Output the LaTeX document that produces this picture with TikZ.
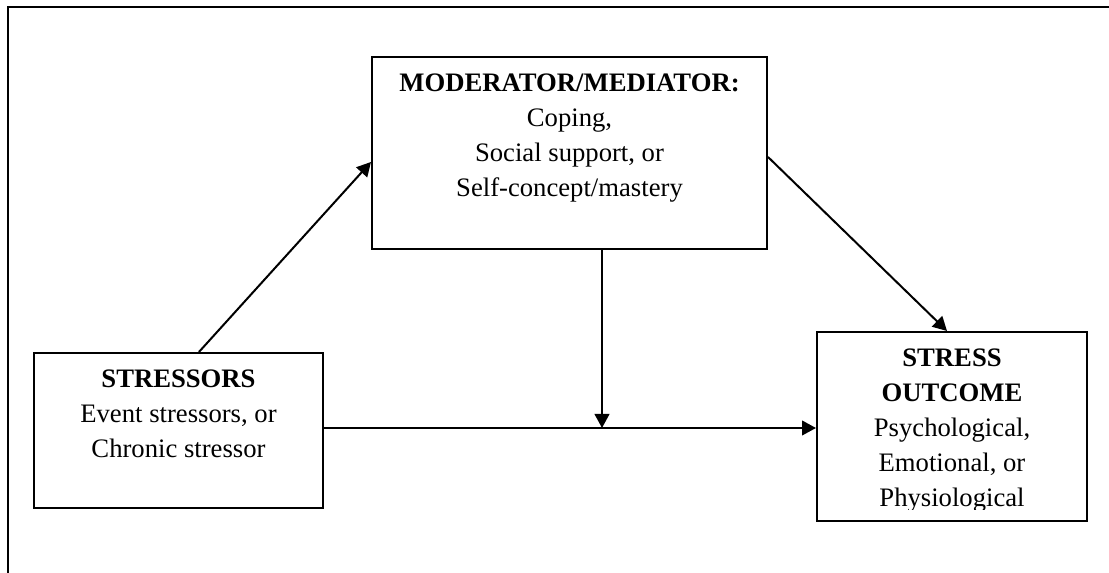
\documentclass[tikz,border=0pt]{standalone}
\usepackage{fontspec}
\setmainfont{Liberation Serif}
\usetikzlibrary{arrows.meta, positioning, calc}

\begin{document}
\begin{tikzpicture}[x=0.45pt, y=-0.45pt,
  box/.style={draw, line width=0.9pt, inner sep=0pt},
  boxtext/.style={align=center, inner sep=0pt, anchor=base,
    font=\fontsize{12}{15.75}\selectfont},
  link/.style={line width=0.9pt, -{Triangle[length=6.3pt, width=6.6pt]}}]
  \useasboundingbox (0,0) rectangle (1109,573);
  % outer frame (cut at right and bottom)
  \draw[line width=0.9pt] (1109,7) -- (8,7) -- (8,573);
  % boxes
  \node[box, minimum width=130pt, minimum height=69.75pt] (stressors) at (178.5,430.5) {};
  \node[box, minimum width=177.75pt, minimum height=86.4pt] (moderator) at (569.5,153) {};
  \node[box, minimum width=121.5pt, minimum height=85.05pt] (outcome) at (952,426.5) {};
  % texts (base = baseline of the last line)
  \node[boxtext] (stressorstext) at ($(stressors.north)+(0,106)$)
    {\textbf{STRESSORS}\\Event stressors, or\\Chronic stressor};
  \node[boxtext] (moderatortext) at ($(moderator.north)+(0,141)$)
    {\textbf{MODERATOR/MEDIATOR:}\\Coping,\\Social support, or\\Self-concept/mastery};
  \begin{scope}
    \clip (outcome.north west) rectangle ($(outcome.south east)+(0,-12)$);
    \node[boxtext] (outcometext) at ($(outcome.north)+(0,176)$)
      {\textbf{STRESS}\\\textbf{OUTCOME}\\Psychological,\\Emotional, or\\Physiological};
  \end{scope}
  % connectors
  \coordinate (mid) at (602,428);
  \draw[link] ([xshift=9.2pt]stressors.north) -- ([yshift=-4.05pt]moderator.west);
  \draw[link] ([yshift=-1.8pt]moderator.east) -- ([xshift=-2.25pt]outcome.north);
  \draw[link] (moderator.south -| mid) -- (mid);
  \draw[link] (stressors.east |- mid) -- (outcome.west |- mid);
\end{tikzpicture}
\end{document}
